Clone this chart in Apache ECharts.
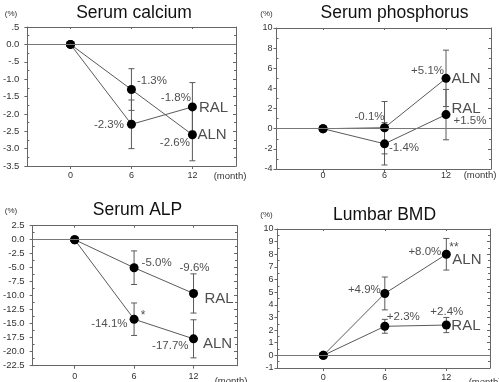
<!DOCTYPE html>
<html>
<head>
<meta charset="utf-8">
<script src="https://cdn.jsdelivr.net/npm/echarts@6/dist/echarts.min.js"></script>
<style>
  html, body { margin: 0; padding: 0; background: #fff; }
  #chart { width: 499px; height: 382px; }
</style>
</head>
<body>
<div id="chart"></div>
<script>
const months = [0, 6, 12];

// Serum calcium (%)
const calAln = [0, -1.3, -2.6];
const calAlnErr = [null, 0.6, 0.75];
const calRal = [0, -2.3, -1.8];
const calRalErr = [null, 0.7, 0.7];
const calTicks = ['-3.5', '-3.0', '-2.5', '-2.0', '-1.5', '-1.0', '-.5', '0.0', '.5'];

// Serum phosphorus (%)
const phoAln = [0, 0.1, 5.0];
const phoAlnErr = [null, 2.6, 2.8];
const phoRal = [0, -1.5, 1.4];
const phoRalErr = [null, 2.1, 2.5];
const phoTicks = ['-4', '-2', '0', '2', '4', '6', '8', '10'];

// Serum ALP (%)
const alpAln = [0, -14.2, -17.7];
const alpAlnErr = [null, 2.9, 3.4];
const alpRal = [0, -5.0, -9.6];
const alpRalErr = [null, 3.0, 3.5];
const alpTicks = ['-22.5', '-20.0', '-17.5', '-15.0', '-12.5', '-10.0', '-7.5', '-5.0', '-2.5', '0.0', '2.5'];

// Lumbar BMD (%)
const bmdAln = [0, 4.9, 8.0];
const bmdAlnErr = [null, 1.3, 1.25];
const bmdRal = [0, 2.3, 2.4];
const bmdRalErr = [null, 0.55, 0.6];
const bmdTicks = ['-1', '0', '1', '2', '3', '4', '5', '6', '7', '8', '9', '10'];

const FONT = '"Liberation Sans", Arial, sans-serif';
const INK = '#5a5a5a';

// panel layout + annotations (s: 0 = first series, 1 = second series)
const panels = [
  {
    title: 'Serum calcium', tx: 134, ty: 13, px: 11, py: 14, mx: 230, my: 176,
    left: 25.5, top: 27, width: 210.5, height: 139,
    xMin: -4.24, xMax: 16.29, yMin: -3.5, yMax: 0.5, yStep: 0.5, ticks: calTicks,
    yFont: 9.5, yMargin: 8, xMargin: 5,
    lines: [[calAln, calAlnErr], [calRal, calRalErr]],
    notes: [
      { s: 0, i: 1, text: '-1.3%', align: 'left', dx: 5.5, dy: -9 },
      { s: 1, i: 1, text: '-2.3%', align: 'right', dx: -7.5, dy: 0.5 },
      { s: 1, i: 2, text: '-1.8%', align: 'right', dx: -1.5, dy: -9.5 },
      { s: 1, i: 2, text: 'RAL', align: 'left', dx: 6.5, dy: 1, big: true },
      { s: 0, i: 2, text: '-2.6%', align: 'right', dx: -2.5, dy: 8 },
      { s: 0, i: 2, text: 'ALN', align: 'left', dx: 5, dy: 0.5, big: true }
    ]
  },
  {
    title: 'Serum phosphorus', tx: 394.5, ty: 13, px: 266.5, py: 14, mx: 480, my: 175,
    left: 276.5, top: 28, width: 214.5, height: 141,
    xMin: -4.54, xMax: 16.39, yMin: -4, yMax: 10, yStep: 2, ticks: phoTicks,
    yFont: 9, yMargin: 4, xMargin: 2,
    lines: [[phoAln, phoAlnErr], [phoRal, phoRalErr]],
    notes: [
      { s: 0, i: 1, text: '-0.1%', align: 'right', dx: 0, dy: -11 },
      { s: 1, i: 1, text: '-1.4%', align: 'left', dx: 4.5, dy: 4.5 },
      { s: 0, i: 2, text: '+5.1%', align: 'right', dx: -2, dy: -7.5 },
      { s: 0, i: 2, text: 'ALN', align: 'left', dx: 5.5, dy: 0.5, big: true },
      { s: 1, i: 2, text: 'RAL', align: 'left', dx: 5.5, dy: -6, big: true },
      { s: 1, i: 2, text: '+1.5%', align: 'left', dx: 7.5, dy: 6.5 }
    ]
  },
  {
    title: 'Serum ALP', tx: 137.5, ty: 210, px: 11, py: 210.5, mx: 231, my: 381,
    left: 25.5, top: 225.7, width: 211.5, height: 140,
    xMin: -4.24, xMax: 16.39, yMin: -22.5, yMax: 2.5, yStep: 2.5, ticks: alpTicks,
    yFont: 9.5, yMargin: 8, xMargin: 6,
    lines: [[alpRal, alpRalErr], [alpAln, alpAlnErr]],
    notes: [
      { s: 0, i: 1, text: '-5.0%', align: 'left', dx: 7.5, dy: -5 },
      { s: 0, i: 2, text: '-9.6%', align: 'center', dx: 1, dy: -25.5 },
      { s: 0, i: 2, text: 'RAL', align: 'left', dx: 11, dy: 5, big: true },
      { s: 1, i: 1, text: '-14.1%', align: 'right', dx: -6.5, dy: 4.5 },
      { s: 1, i: 1, text: '*', align: 'center', dx: 9, dy: -4, star: true },
      { s: 1, i: 2, text: '-17.7%', align: 'right', dx: -5, dy: 7 },
      { s: 1, i: 2, text: 'ALN', align: 'left', dx: 9.5, dy: 5.5, big: true }
    ]
  },
  {
    title: 'Lumbar BMD', tx: 384.5, ty: 215, px: 266.5, py: 215, mx: 485, my: 382,
    left: 277.5, top: 229, width: 212.5, height: 141,
    xMin: -4.47, xMax: 16.26, yMin: -1, yMax: 10, yStep: 1, ticks: bmdTicks,
    yFont: 9, yMargin: 4, xMargin: 5,
    lines: [[bmdAln, bmdAlnErr], [bmdRal, bmdRalErr]],
    notes: [
      { s: 0, i: 1, text: '+4.9%', align: 'right', dx: -4, dy: -3.5 },
      { s: 1, i: 1, text: '+2.3%', align: 'left', dx: 2, dy: -9.5 },
      { s: 1, i: 2, text: '+2.4%', align: 'center', dx: 0.5, dy: -13 },
      { s: 1, i: 2, text: 'RAL', align: 'left', dx: 5, dy: 1, big: true },
      { s: 0, i: 2, text: '+8.0%', align: 'right', dx: -5, dy: -2 },
      { s: 0, i: 2, text: '**', align: 'left', dx: 3, dy: -6.5, star: true },
      { s: 0, i: 2, text: 'ALN', align: 'left', dx: 6, dy: 5.5, big: true }
    ]
  }
];

function renderErr(params, api) {
  const x = api.value(0);
  const lo = api.coord([x, api.value(1)]);
  const hi = api.coord([x, api.value(2)]);
  const w = 3;
  const st = { stroke: INK, lineWidth: 1 };
  return {
    type: 'group',
    children: [
      { type: 'line', shape: { x1: lo[0], y1: lo[1], x2: hi[0], y2: hi[1] }, style: st },
      { type: 'line', shape: { x1: lo[0] - w, y1: lo[1], x2: lo[0] + w, y2: lo[1] }, style: st },
      { type: 'line', shape: { x1: hi[0] - w, y1: hi[1], x2: hi[0] + w, y2: hi[1] }, style: st }
    ]
  };
}

const grid = [], xAxis = [], yAxis = [], series = [], graphic = [];

panels.forEach((p, n) => {
  grid.push({ left: p.left, top: p.top, width: p.width, height: p.height });
  const lineStyle = { color: '#666', width: 1 };
  // bottom + top x axes
  xAxis.push({
    type: 'value', gridIndex: n, min: p.xMin, max: p.xMax, position: 'bottom',
    axisLine: { onZero: false, lineStyle: lineStyle },
    axisTick: { customValues: months, length: 3, lineStyle: lineStyle },
    axisLabel: { customValues: months, margin: p.xMargin, fontSize: 9, fontFamily: FONT, color: '#333' },
    splitLine: { show: false }
  });
  xAxis.push({
    type: 'value', gridIndex: n, min: p.xMin, max: p.xMax, position: 'top',
    axisLine: { onZero: false, lineStyle: lineStyle },
    axisTick: { customValues: months, inside: true, length: 2, lineStyle: lineStyle },
    axisLabel: { show: false },
    splitLine: { show: false }
  });
  // left + right y axes
  const fmt = v => p.ticks[Math.round((v - p.yMin) / p.yStep)];
  yAxis.push({
    type: 'value', gridIndex: n, min: p.yMin, max: p.yMax, interval: p.yStep, position: 'left',
    axisLine: { show: true, onZero: false, lineStyle: lineStyle },
    axisTick: { show: true, length: 3, lineStyle: lineStyle },
    minorTick: { show: true, splitNumber: 2, length: -2, lineStyle: lineStyle },
    axisLabel: { formatter: fmt, margin: p.yMargin, fontSize: p.yFont, fontFamily: FONT, color: '#333' },
    splitLine: { show: false }
  });
  yAxis.push({
    type: 'value', gridIndex: n, min: p.yMin, max: p.yMax, interval: p.yStep, position: 'right',
    axisLine: { show: true, onZero: false, lineStyle: lineStyle },
    axisTick: { show: true, inside: true, length: 3, lineStyle: lineStyle },
    minorTick: { show: true, splitNumber: 2, length: 2, lineStyle: lineStyle },
    axisLabel: { show: false },
    splitLine: { show: false }
  });

  const xi = 2 * n, yi = 2 * n;
  p.lines.forEach(([vals, err], s) => {
    series.push({
      type: 'custom', xAxisIndex: xi, yAxisIndex: yi, renderItem: renderErr, z: 2,
      encode: { x: 0, y: [1, 2] }, silent: true,
      data: months.map((m, k) => err[k] == null ? null : [m, vals[k] - err[k], vals[k] + err[k]]).filter(d => d)
    });
    series.push({
      type: 'line', xAxisIndex: xi, yAxisIndex: yi, z: 3, silent: true,
      data: months.map((m, k) => [m, vals[k]]),
      symbol: 'circle', symbolSize: 9,
      itemStyle: { color: '#000' },
      lineStyle: { color: INK, width: 1 },
      markLine: s === 0 ? {
        silent: true, symbol: 'none', label: { show: false },
        lineStyle: { color: '#777', type: 'solid', width: 1 },
        data: [{ yAxis: 0 }]
      } : undefined
    });
  });

  series.push({
    type: 'scatter', xAxisIndex: xi, yAxisIndex: yi, z: 4, silent: true,
    symbolSize: 1, itemStyle: { color: 'rgba(0,0,0,0)' },
    data: p.notes.map(a => ({
      value: [months[a.i], p.lines[a.s][0][a.i]],
      label: {
        show: true, position: 'inside', formatter: a.text,
        align: a.align, verticalAlign: 'middle', offset: [a.dx, a.dy],
        fontSize: a.big ? 15 : (a.star ? 12 : 11.5), fontFamily: FONT, color: '#222'
      }
    }))
  });

  graphic.push({
    type: 'text', x: p.tx, y: p.ty,
    style: { text: p.title, font: '17.5px ' + FONT, fill: '#111', textAlign: 'center', textVerticalAlign: 'middle' }
  });
  graphic.push({
    type: 'text', x: p.px, y: p.py,
    style: { text: '(%)', font: '8px ' + FONT, fill: '#333', textAlign: 'center', textVerticalAlign: 'middle' }
  });
  graphic.push({
    type: 'text', x: p.mx, y: p.my,
    style: { text: '(month)', font: '9.5px ' + FONT, fill: '#333', textAlign: 'center', textVerticalAlign: 'middle' }
  });
});

const chart = echarts.init(document.getElementById('chart'), null, { renderer: 'canvas' });
chart.setOption({
  animation: false,
  backgroundColor: '#fff',
  grid: grid,
  xAxis: xAxis,
  yAxis: yAxis,
  series: series,
  graphic: graphic
});
</script>
</body>
</html>
